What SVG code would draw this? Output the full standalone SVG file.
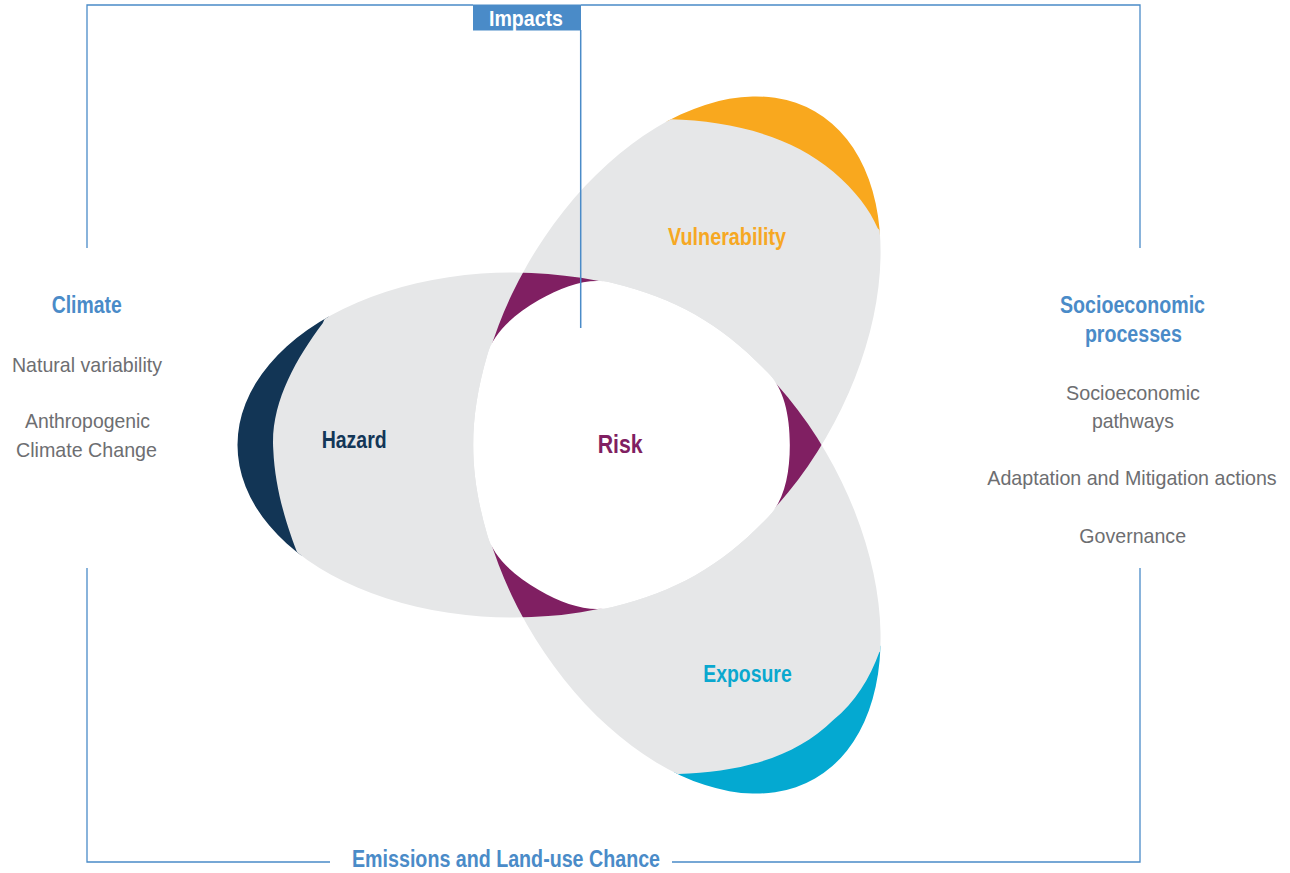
<svg xmlns="http://www.w3.org/2000/svg" xmlns:xlink="http://www.w3.org/1999/xlink" width="1290" height="873" viewBox="0 0 1290 873">
  <style>
    .frame { fill: none; stroke: #4a8bc8; stroke-width: 1.3; }
    .head { font-family: "Liberation Sans", Arial, sans-serif; font-weight: bold; font-size: 23px; fill: #4a8bc8; text-anchor: middle; }
    .body { font-family: "Liberation Sans", Arial, sans-serif; font-size: 21px; fill: #6d6e71; text-anchor: middle; }
    .lbl { font-family: "Liberation Sans", Arial, sans-serif; font-weight: bold; font-size: 23px; text-anchor: middle; }
  </style>
  <defs>
    <path id="petal" d="M-385,0 A275 172.5 0 0 1 -9.8,-160.7 C54.3,-145 98.4,-119.5 144.1,-71.85 C160,-56 166,-30 166,0 C166,30 160,56 144.1,71.85 C98.4,119.5 54.3,145 -9.8,160.7 A275 172.5 0 0 1 -385,0 Z"/>
    <use id="pH" xlink:href="#petal" transform="translate(622.5 445)"/>
    <use id="pV" xlink:href="#petal" transform="translate(622.5 445) rotate(120)"/>
    <use id="pE" xlink:href="#petal" transform="translate(622.5 445) rotate(-120)"/>
    <clipPath id="clipH"><use xlink:href="#petal" transform="translate(622.5 445)"/></clipPath>
    <clipPath id="clipV"><use xlink:href="#petal" transform="translate(622.5 445) rotate(120)"/></clipPath>
    <clipPath id="clipE"><use xlink:href="#petal" transform="translate(622.5 445) rotate(-120)"/></clipPath>
    <clipPath id="clipHw"><use xlink:href="#petal" transform="translate(622.5 445) scale(1.008)"/></clipPath>
    <clipPath id="clipVw"><use xlink:href="#petal" transform="translate(622.5 445) rotate(120) scale(1.008)"/></clipPath>
    <clipPath id="clipEw"><use xlink:href="#petal" transform="translate(622.5 445) rotate(-120) scale(1.008)"/></clipPath>
    <clipPath id="cutH">
      <path d="M360,240 L322.7,323.3 C295,360 270,405 273.3,450 C275,490 288,530 298.3,555 L330,650 L1100,650 L1100,240 Z"/>
    </clipPath>
    <clipPath id="capH">
      <path transform="translate(3 0)" d="M360,240 L322.7,323.3 C295,360 270,405 273.3,450 C275,490 288,530 298.3,555 L330,650 L100,650 L100,240 Z"/>
    </clipPath>
    <clipPath id="cutV">
      <path d="M620,90 L670,119.3 C730,121 790,135 833.3,171.7 C855,190 870,210 877.7,228.3 L910,260 L910,700 L400,700 L400,90 Z"/>
    </clipPath>
    <clipPath id="capV">
      <path transform="translate(-2 3)" d="M620,90 L670,119.3 C730,121 790,135 833.3,171.7 C855,190 870,210 877.7,228.3 L910,260 L950,260 L950,60 L620,60 Z"/>
    </clipPath>
    <clipPath id="cutE">
      <path d="M640,800 L678.3,774 C740,772 795,758 833.3,720 C855,703 870,678 879.3,652.3 L910,620 L910,250 L400,250 L400,800 Z"/>
    </clipPath>
    <clipPath id="capE">
      <path transform="translate(-2 -3)" d="M640,800 L678.3,774 C740,772 795,758 833.3,720 C855,703 870,678 879.3,652.3 L910,620 L950,620 L950,830 L640,830 Z"/>
    </clipPath>
  </defs>

  <g id="frame">
    <path class="frame" d="M87,248 V5 H473"/>
    <path class="frame" d="M581,5 H1140 V248"/>
    <path class="frame" d="M87,568 V862 H330"/>
    <path class="frame" d="M672,862 H1140 V568"/>
  </g>

  <g id="hazard">
    <use xlink:href="#pH" fill="#123555" clip-path="url(#capH)"/>
    <use xlink:href="#pH" fill="#e6e7e8" clip-path="url(#cutH)"/>
  </g>
  <g id="vulnerability">
    <use xlink:href="#pV" fill="#f9a81e" clip-path="url(#capV)"/>
    <use xlink:href="#pV" fill="#e6e7e8" clip-path="url(#cutV)"/>
  </g>
  <g id="exposure">
    <use xlink:href="#pE" fill="#04a9d1" clip-path="url(#capE)"/>
    <use xlink:href="#pE" fill="#e6e7e8" clip-path="url(#cutE)"/>
  </g>
  <g id="overlaps">
    <use xlink:href="#pH" fill="#801f62" clip-path="url(#clipV)"/>
    <use xlink:href="#pV" fill="#801f62" clip-path="url(#clipE)"/>
    <use xlink:href="#pE" fill="#801f62" clip-path="url(#clipH)"/>
  </g>
  <g id="risk">
    <g clip-path="url(#clipEw)">
      <g clip-path="url(#clipVw)">
        <rect x="400" y="200" width="500" height="480" fill="#ffffff" clip-path="url(#clipHw)"/>
      </g>
    </g>
    <text class="lbl" x="620.2" y="452.7" style="font-size:25px" fill="#801f62" textLength="45" lengthAdjust="spacingAndGlyphs">Risk</text>
  </g>

  <g id="connectors">
    <line x1="580.7" y1="30" x2="580.7" y2="328" stroke="#4a8bc8" stroke-width="1.5"/>
  </g>

  <g id="impacts">
    <rect x="473" y="4.5" width="108" height="26" fill="#4a8bc8"/>
    <text class="lbl" x="526" y="26" style="font-size:22px" fill="#ffffff" textLength="74" lengthAdjust="spacingAndGlyphs">Impacts</text>
  </g>

  <g id="labels">
    <text class="lbl" x="354.2" y="448" fill="#133657" textLength="65" lengthAdjust="spacingAndGlyphs">Hazard</text>
    <text class="lbl" x="727" y="245" fill="#f6a823" textLength="118" lengthAdjust="spacingAndGlyphs">Vulnerability</text>
    <text class="lbl" x="747.5" y="682" fill="#0aa8cf" textLength="88.4" lengthAdjust="spacingAndGlyphs">Exposure</text>
  </g>

  <g id="climate">
    <text class="head" x="86.7" y="313" textLength="70" lengthAdjust="spacingAndGlyphs">Climate</text>
    <text class="body" x="87" y="371.5" textLength="150" lengthAdjust="spacingAndGlyphs">Natural variability</text>
    <text class="body" x="87.5" y="428" textLength="125" lengthAdjust="spacingAndGlyphs">Anthropogenic</text>
    <text class="body" x="86.5" y="456.7" textLength="141" lengthAdjust="spacingAndGlyphs">Climate Change</text>
  </g>

  <g id="socioeconomic">
    <text class="head" x="1132.5" y="313.3" textLength="145" lengthAdjust="spacingAndGlyphs">Socioeconomic</text>
    <text class="head" x="1133.4" y="341.7" textLength="97" lengthAdjust="spacingAndGlyphs">processes</text>
    <text class="body" x="1133" y="400" textLength="134" lengthAdjust="spacingAndGlyphs">Socioeconomic</text>
    <text class="body" x="1132.9" y="427.5" textLength="82" lengthAdjust="spacingAndGlyphs">pathways</text>
    <text class="body" x="1132" y="485" textLength="289.4" lengthAdjust="spacingAndGlyphs">Adaptation and Mitigation actions</text>
    <text class="body" x="1132.7" y="543.3" textLength="106.7" lengthAdjust="spacingAndGlyphs">Governance</text>
  </g>

  <g id="emissions">
    <text class="head" x="506" y="867" textLength="308" lengthAdjust="spacingAndGlyphs">Emissions and Land-use Chance</text>
  </g>
</svg>
